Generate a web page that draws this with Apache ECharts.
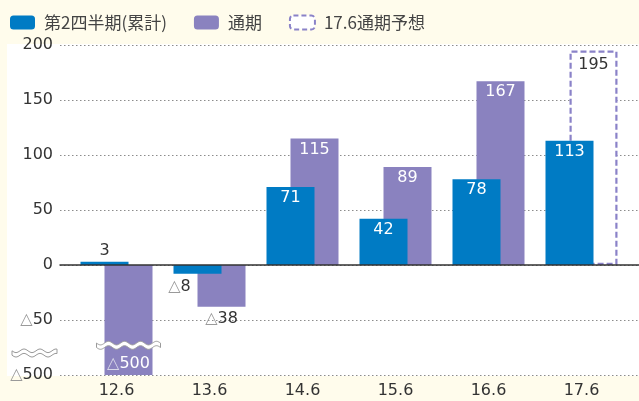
<!DOCTYPE html>
<html>
<head>
<meta charset="utf-8">
<script src="https://cdn.jsdelivr.net/npm/echarts@6/dist/echarts.min.js"></script>
<style>
html,body{margin:0;padding:0;background:#fffcec;}
#c{width:639px;height:401px;}
</style>
</head>
<body>
<div id="c"></div>
<script>
const categories = ['12.6', '13.6', '14.6', '15.6', '16.6', '17.6'];
const q2Values = [3, -8, 71, 42, 78, 113];
const fullYearValues = [-500, -38, 115, 89, 167, null];
const forecastValues = [null, null, null, null, null, 195];
const seriesNames = ['第2四半期(累計)', '通期', '17.6通期予想'];

// axis break: values below -50 are compressed so that -500 sits one tick below -50
function toAxis(v) {
  if (v === null || v === undefined) return '-';
  return v < -50 ? -50 + (v + 50) / 9 : v;
}
function fromAxis(a) {
  return a < -50 ? -50 + (a + 50) * 9 : a;
}
function fmtVal(v) {
  return v < 0 ? '{t|△}' + Math.abs(v) : String(v);
}

const FONT = '"DejaVu Sans", "Noto Sans CJK JP", sans-serif';
const LFONT = '"Noto Sans CJK JP", sans-serif';
const FS = 16;
const BLUE = '#007bc4';
const PURPLE = '#8a82bf';
const DASH = '#8a82c8';
const DARK = '#333';

const chart = echarts.init(document.getElementById('c'));

function labelFor(values, i, kind) {
  const v = values[i];
  const base = { fontFamily: FONT, fontSize: FS };
  const richDark = { t: { color: '#9a9a9a', fontFamily: FONT, fontSize: FS } };
  const richWhite = { t: { color: '#d8d8e8', fontFamily: FONT, fontSize: FS } };
  if (v === null) return { show: false };
  if (kind === 'blue') {
    if (v >= 10) return Object.assign({ show: true, position: 'insideTop', distance: 3, color: '#fff' }, base);
    if (v >= 0) return Object.assign({ show: true, position: 'top', distance: 3, color: DARK }, base);
    return Object.assign({ show: true, position: 'bottom', offset: [-18, 0], color: DARK, rich: richDark }, base);
  }
  if (kind === 'purple') {
    if (v >= 10) return Object.assign({ show: true, position: 'insideTop', distance: 3, color: '#fff' }, base);
    if (v < -50) return Object.assign({ show: true, position: 'insideBottom', distance: 3, color: '#fff', rich: richWhite }, base);
    return Object.assign({ show: true, position: 'bottom', distance: 4, color: DARK, rich: richDark }, base);
  }
  return Object.assign({ show: true, position: 'insideTop', distance: 6, color: DARK }, base);
}

const yCommon = { type: 'value', min: -100, max: 200, interval: 50 };

const option = {
  backgroundColor: '#fffcec',
  animation: false,
  legend: {
    left: 5, top: 9,
    itemWidth: 25, itemHeight: 14, itemGap: 27,
    data: [
      { name: seriesNames[0] },
      { name: seriesNames[1] },
      { name: seriesNames[2], itemStyle: { color: '#ffffff', borderColor: DASH, borderWidth: 2, borderType: [5, 3] } }
    ],
    textStyle: { fontFamily: LFONT, fontSize: 17, color: '#444', padding: [0, 0, 0, 4] },
    selectedMode: false
  },
  grid: [
    { left: 60, right: 0, top: 45, bottom: 26 },
    { left: 70, right: 11, top: 45, bottom: 26 }
  ],
  xAxis: [
    {
      type: 'category', gridIndex: 0, data: categories, z: 10,
      axisLine: { show: true, onZero: true, lineStyle: { color: '#333', width: 1.5 } },
      axisTick: { show: false }, axisLabel: { show: false }
    },
    {
      type: 'category', gridIndex: 1, data: categories,
      axisLine: { show: false }, axisTick: { show: false },
      axisLabel: { margin: 8, fontFamily: FONT, fontSize: FS, color: DARK }
    }
  ],
  yAxis: [
    Object.assign({}, yCommon, {
      gridIndex: 0,
      axisLine: { show: false }, axisTick: { show: false },
      axisLabel: {
        margin: 7, fontFamily: FONT, fontSize: FS, color: DARK,
        formatter: function (a) { return fmtVal(Math.round(fromAxis(a))); },
        rich: { t: { color: '#9a9a9a', fontFamily: FONT, fontSize: FS } }
      },
      splitLine: { show: true, lineStyle: { color: '#8c8c8c', type: [1.5, 2.5], width: 1.2 } }
    }),
    Object.assign({}, yCommon, { gridIndex: 1, show: false, splitLine: { show: false } })
  ],
  series: [
    {
      name: seriesNames[0], type: 'bar', xAxisIndex: 1, yAxisIndex: 1,
      barWidth: 48, barGap: '-50%', z: 4,
      itemStyle: { color: BLUE },
      data: q2Values.map((v, i) => ({ value: toAxis(v), label: labelFor(q2Values, i, 'blue') })),
      label: { formatter: p => fmtVal(q2Values[p.dataIndex]) }
    },
    {
      name: seriesNames[1], type: 'bar', xAxisIndex: 1, yAxisIndex: 1,
      barWidth: 48, stack: 'full', z: 2,
      itemStyle: { color: PURPLE },
      data: fullYearValues.map((v, i) => ({ value: toAxis(v), label: labelFor(fullYearValues, i, 'purple') })),
      label: { formatter: p => fmtVal(fullYearValues[p.dataIndex]) }
    },
    {
      name: seriesNames[2], type: 'bar', xAxisIndex: 1, yAxisIndex: 1,
      barWidth: 48, stack: 'full', z: 3,
      itemStyle: { color: '#fff', borderColor: DASH, borderWidth: 2.2, borderType: [6, 3] },
      data: forecastValues.map((v, i) => ({ value: toAxis(v), label: labelFor(forecastValues, i, 'forecast') })),
      label: { formatter: p => fmtVal(forecastValues[p.dataIndex]) }
    }
  ]
};
chart.setOption(option);

function wavePolygon(x0, x1, yc, amp, wl, half) {
  const top = [], bot = [];
  for (let x = x0; x <= x1 + 0.01; x += 1) {
    const y = yc + amp * Math.sin(2 * Math.PI * (x - x0) / wl);
    top.push([x, y - half]);
    bot.unshift([x, y + half]);
  }
  return top.concat(bot);
}

const p200 = chart.convertToPixel({ gridIndex: 0 }, [0, 200]);
const pMin = chart.convertToPixel({ gridIndex: 0 }, [0, -100]);
const barBreak = chart.convertToPixel({ xAxisIndex: 1, yAxisIndex: 1 }, [categories[0], -73]);
const axisBreak = chart.convertToPixel({ yAxisIndex: 0, xAxisIndex: 0 }, [categories[0], -80]);
const purpleCenter = barBreak[0] + 12;

chart.setOption({
  graphic: [
    {
      type: 'rect', z: -10, silent: true,
      shape: { x: 7, y: p200[1] - 1, width: 639 - 7, height: pMin[1] - p200[1] + 2 },
      style: { fill: '#ffffff' }
    },
    {
      type: 'polygon', z: 100, silent: true,
      shape: { points: wavePolygon(purpleCenter - 32, purpleCenter + 32, barBreak[1], 1.8, 16, 2.2) },
      style: { fill: '#ffffff', stroke: '#9a9a9a', lineWidth: 1 }
    },
    {
      type: 'polygon', z: 100, silent: true,
      shape: { points: wavePolygon(12, 57, axisBreak[1], 1.8, 16, 2.2) },
      style: { fill: '#ffffff', stroke: '#9a9a9a', lineWidth: 1 }
    }
  ]
});
</script>
</body>
</html>
